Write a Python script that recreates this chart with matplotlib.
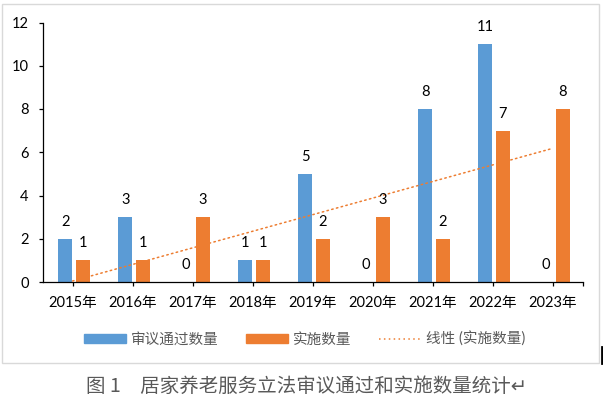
import numpy as np
import matplotlib
matplotlib.use("Agg")
import matplotlib.pyplot as plt
from matplotlib.patches import Rectangle
from matplotlib.lines import Line2D

years = ["2015年", "2016年", "2017年", "2018年", "2019年", "2020年", "2021年", "2022年", "2023年"]
passed = [2, 3, 0, 1, 5, 0, 8, 11, 0]
implemented = [1, 1, 3, 1, 2, 3, 2, 7, 8]
series_names = ["审议通过数量", "实施数量", "线性 (实施数量)"]
yticks = [0, 2, 4, 6, 8, 10, 12]
caption = "图 1　居家养老服务立法审议通过和实施数量统计↵"

BLUE = "#5B9BD5"
ORANGE = "#ED7D31"
FAM = ["Lato", "Noto Sans CJK SC", "DejaVu Sans"]
plt.rcParams["font.family"] = FAM

fig = plt.figure(figsize=(6.03, 3.99), dpi=100)
W, H = 603, 399
ax = fig.add_axes([42.5 / W, 1 - 282 / H, 540 / W, 259.5 / H])

x = np.arange(len(years))
bw = 0.233
b1 = ax.bar(x - 0.12, passed, width=bw, color=BLUE, label=series_names[0], zorder=2)
b2 = ax.bar(x + 0.17, implemented, width=bw, color=ORANGE, label=series_names[1], zorder=2)

# linear trend line of implemented
coef = np.polyfit(x, implemented, 1)
trend = np.polyval(coef, x)
tl, = ax.plot(x, trend, color=ORANGE, linewidth=1.1, linestyle=(0, (1, 2.2)),
              dash_capstyle="round", label=series_names[2], zorder=3)

for xi, v in zip(x - 0.12, passed):
    ax.annotate(str(v), (xi, v), xytext=(0, 12.3), textcoords="offset points",
                ha="center", va="center", fontsize=10.5, color="#000000")
for xi, v in zip(x + 0.17, implemented):
    ax.annotate(str(v), (xi, v), xytext=(0, 12.3), textcoords="offset points",
                ha="center", va="center", fontsize=10.5, color="#000000")

ax.set_xlim(-0.5, len(years) - 0.5)
ax.set_ylim(0, 12)
ax.set_yticks(yticks)
ax.set_yticklabels([str(t) for t in yticks], fontsize=10.5)
ax.set_xticks(x)
ax.set_xticklabels(years, fontsize=10.5)
ax.set_xticks([len(years) - 0.5], minor=True)
ax.tick_params(axis="x", which="both", direction="out", length=3, width=0.9, pad=7, colors="#000000")
ax.tick_params(axis="y", direction="out", length=3, width=0.9, pad=7, colors="#000000")
for s in ["top", "right"]:
    ax.spines[s].set_visible(False)
for s in ["left", "bottom"]:
    ax.spines[s].set_linewidth(0.9)
    ax.spines[s].set_color("#000000")

handles = [Rectangle((0, 0), 1, 1, color=BLUE), Rectangle((0, 0), 1, 1, color=ORANGE),
           Line2D([0], [0], color=ORANGE, linewidth=1.1, linestyle=(0, (1, 2.2)))]
leg = fig.legend(handles, series_names, loc="center", bbox_to_anchor=(304.5 / W, 1 - 339 / H),
                 ncol=3, frameon=False, fontsize=10.5, handlelength=2.9, handleheight=0.55,
                 handletextpad=0.3, columnspacing=1.9, labelcolor="#595959")

# chart frame
fig.patches.append(Rectangle((2 / W, 1 - 363 / H), 597 / W, 359 / H, transform=fig.transFigure,
                             fill=False, edgecolor="#D9D9D9", linewidth=1.0))
fig.lines.append(Line2D([601.5 / W, 601.5 / W], [1 - 347 / H, 1 - 363 / H], transform=fig.transFigure,
                        color="#000000", linewidth=2))

fig.text(307 / W, 1 - 386 / H, caption, ha="center", va="center", fontsize=14,
         color="#595959", family=["Noto Sans CJK SC", "DejaVu Sans"])

fig.savefig("out.png", dpi=100)
